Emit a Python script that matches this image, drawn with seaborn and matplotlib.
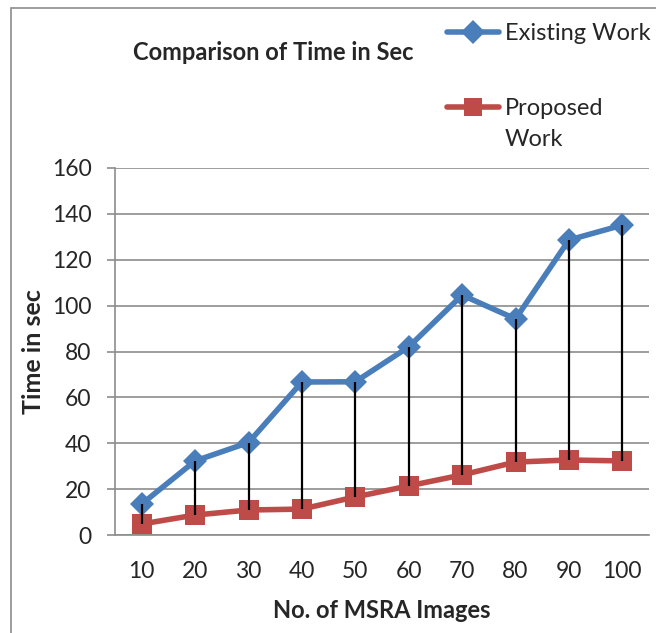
import pandas as pd
import matplotlib
matplotlib.use("Agg")
import matplotlib.pyplot as plt
import seaborn as sns
from matplotlib.patches import Rectangle

# values
images = [10, 20, 30, 40, 50, 60, 70, 80, 90, 100]
existing_work = [13.5, 32.3, 40.3, 66.7, 66.8, 82.0, 104.6, 94.2, 128.6, 135.1]
proposed_work = [4.8, 8.7, 10.9, 11.3, 16.6, 21.4, 26.2, 31.8, 32.7, 32.3]
y_ticks = [0, 20, 40, 60, 80, 100, 120, 140, 160]

BLUE = "#4A7EBB"
RED = "#BE4B48"
GRID = "#8C8C8C"

sns.set_style("white")
plt.rcParams["font.family"] = ["Lato", "DejaVu Sans"]

df = pd.DataFrame({
    "images": images * 2,
    "time": existing_work + proposed_work,
    "series": ["Existing Work"] * len(images) + ["Proposed Work"] * len(images),
})

fig = plt.figure(figsize=(6.56, 6.33), dpi=100)
ax = fig.add_axes([115 / 656, 1 - 535 / 633, (649 - 115) / 656, (535 - 168) / 633])

sns.lineplot(
    data=df, x="images", y="time", hue="series", style="series",
    palette={"Existing Work": BLUE, "Proposed Work": RED},
    markers={"Existing Work": "D", "Proposed Work": "s"},
    dashes=False, linewidth=4, markersize=12.5, markeredgewidth=0,
    ax=ax, zorder=3,
)
# make squares a little larger than diamonds, as in the reference
ax.lines[1].set_markersize(14)

# high-low drop lines between the two series
ax.vlines(images, proposed_work, existing_work, color="black", linewidth=1.6, zorder=4)

ax.set_xlim(5, 105)
ax.set_ylim(0, 160)
ax.set_xticks(images)
ax.set_yticks(y_ticks)
ax.yaxis.grid(True, color=GRID, linewidth=1.2)
ax.xaxis.grid(False)
ax.set_axisbelow(True)
for side in ["top", "right"]:
    ax.spines[side].set_visible(False)
for side in ["left", "bottom"]:
    ax.spines[side].set_color(GRID)
    ax.spines[side].set_linewidth(1.2)
ax.tick_params(axis="y", length=6, color=GRID, width=1.2, labelsize=16.5, pad=11, left=True)
ax.tick_params(axis="x", length=0, labelsize=16.5, pad=19)

ax.set_xlabel("No. of MSRA Images", fontsize=17, fontweight="bold", labelpad=12)
ax.set_ylabel("Time in sec", fontsize=18, fontweight="bold", labelpad=5)

fig.text(273 / 656, 1 - 52 / 633, "Comparison of Time in Sec", fontsize=17,
         fontweight="bold", ha="center", va="center")

handles, labels = ax.get_legend_handles_labels()
for h in handles:
    h.set_linewidth(4)
leg = ax.legend(handles, ["Existing Work", "Proposed"], loc="upper left",
                bbox_to_anchor=(447 / 656, 1 - 23 / 633), bbox_transform=fig.transFigure,
                frameon=False, fontsize=17, handlelength=2.2, handletextpad=0.25,
                labelspacing=2.3, borderpad=0, borderaxespad=0)
# wrapped second line of the "Proposed Work" legend label
fig.text(505 / 656, 1 - 140 / 633, "Work", fontsize=17, ha="left", va="center")

# outer chart border
fig.patches.append(Rectangle((11 / 656, -0.1), 1.2, 1.1 - 8 / 633, transform=fig.transFigure,
                             fill=False, edgecolor=GRID, linewidth=1.2))

fig.savefig("out.png", dpi=100)
